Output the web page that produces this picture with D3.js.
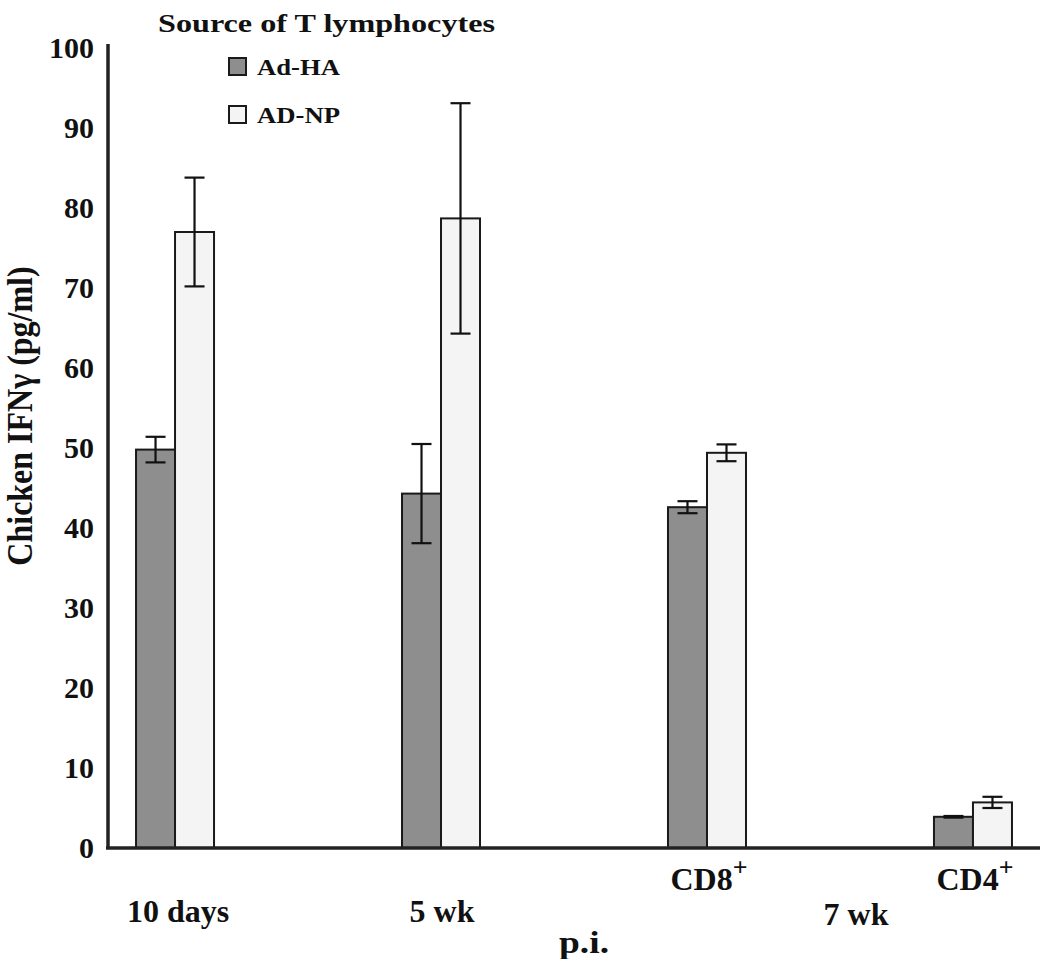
<!DOCTYPE html>
<html><head><meta charset="utf-8">
<script src="https://cdn.jsdelivr.net/npm/d3@7"></script>
<style>body{margin:0;background:#fff}svg{display:block}text{font-family:"Liberation Serif","Times New Roman",serif;font-weight:bold;fill:#111}</style>
</head><body><svg id="c" width="1050" height="959"></svg>
<script>
const groups = ["10 days","5 wk","CD8+","CD4+"];
const series = ["Ad-HA","AD-NP"];
const adHA = [49.8, 44.3, 42.6, 3.9];
const adHAerr = [1.6, 6.2, 0.75, 0.1];
const adNP = [77.0, 78.7, 49.4, 5.7];
const adNPerr = [6.8, 14.4, 1.05, 0.7];
const yTicks = [0,10,20,30,40,50,60,70,80,90,100];
const colors = {"Ad-HA":"#8e8e8e","AD-NP":"#f4f4f4"};

const svg = d3.select("#c");
const y = d3.scaleLinear().domain([0,100]).range([848,48]);
const x = d3.scalePoint().domain(groups).range([108,1040]).padding(0.252);
const xs = d3.scaleBand().domain(series).range([-39,39]);

const data = [];
groups.forEach((g,i)=>{
  data.push({g, s:"Ad-HA", v:adHA[i], e:adHAerr[i]});
  data.push({g, s:"AD-NP", v:adNP[i], e:adNPerr[i]});
});

// bars
svg.append("g").selectAll("rect").data(data).join("rect")
  .attr("x", d=>x(d.g)+xs(d.s))
  .attr("width", xs.bandwidth())
  .attr("y", d=>y(d.v))
  .attr("height", d=>y(0)-y(d.v))
  .attr("fill", d=>colors[d.s])
  .attr("stroke", "#1a1a1a").attr("stroke-width", 2);

// error bars
const eb = svg.append("g").attr("stroke","#111").attr("stroke-width",2.2);
data.forEach(d=>{
  const cx = x(d.g)+xs(d.s)+xs.bandwidth()/2;
  eb.append("line").attr("x1",cx).attr("x2",cx).attr("y1",y(d.v+d.e)).attr("y2",y(d.v-d.e));
  eb.append("line").attr("x1",cx-10).attr("x2",cx+10).attr("y1",y(d.v+d.e)).attr("y2",y(d.v+d.e));
  eb.append("line").attr("x1",cx-10).attr("x2",cx+10).attr("y1",y(d.v-d.e)).attr("y2",y(d.v-d.e));
});

// axes
const yAxis = d3.axisLeft(y).tickValues(yTicks).tickSize(0).tickPadding(14);
const ga = svg.append("g").attr("transform","translate(108,0)").call(yAxis);
ga.select(".domain").remove();
ga.selectAll("text").style("font-size","30px").style("font-family","'Liberation Serif',serif").style("font-weight","bold").attr("fill","#111");
svg.append("line").attr("x1",108).attr("x2",108).attr("y1",44).attr("y2",849).attr("stroke","#222").attr("stroke-width",3.5);
svg.append("line").attr("x1",106).attr("x2",1040).attr("y1",848).attr("y2",848).attr("stroke","#222").attr("stroke-width",3.5);

// y title
svg.append("text").attr("transform","translate(32,416) scale(1.1,1) rotate(-90)").attr("text-anchor","middle")
  .style("font-size","32px").text("Chicken IFNγ (pg/ml)");

// x labels
["CD8+","CD4+"].forEach(g=>{
  const t = svg.append("text").attr("x",x(g)+2).attr("y",890).attr("text-anchor","middle").style("font-size","32px");
  t.append("tspan").text(g.slice(0,3));
  t.append("tspan").attr("dy",-14).style("font-size","26px").text("+");
});
const lowLabels = [["10 days", x("10 days")+3, 922],["5 wk", x("5 wk")+1, 922],["7 wk",(x("CD8+")+x("CD4+"))/2+16, 925]];
lowLabels.forEach(([t,px,py])=>svg.append("text").attr("x",px).attr("y",py).attr("text-anchor","middle").style("font-size","32px").text(t));
svg.append("text").attr("x",584).attr("y",953).attr("text-anchor","middle").style("font-size","32px")
  .attr("textLength",50).attr("lengthAdjust","spacingAndGlyphs").text("p.i.");

// legend
svg.append("text").attr("x",158).attr("y",32).style("font-size","26px")
  .attr("textLength",337).attr("lengthAdjust","spacingAndGlyphs").text("Source of T lymphocytes");
const leg = svg.append("g");
series.forEach((s,i)=>{
  const yy = 58 + i*48;
  leg.append("rect").attr("x",229).attr("y",yy).attr("width",17).attr("height",17).attr("fill",colors[s]).attr("stroke","#1a1a1a").attr("stroke-width",2);
  leg.append("text").attr("x",257).attr("y",yy+17).style("font-size","23px")
    .attr("textLength",83).attr("lengthAdjust","spacingAndGlyphs").text(s);
});
</script></body></html>
